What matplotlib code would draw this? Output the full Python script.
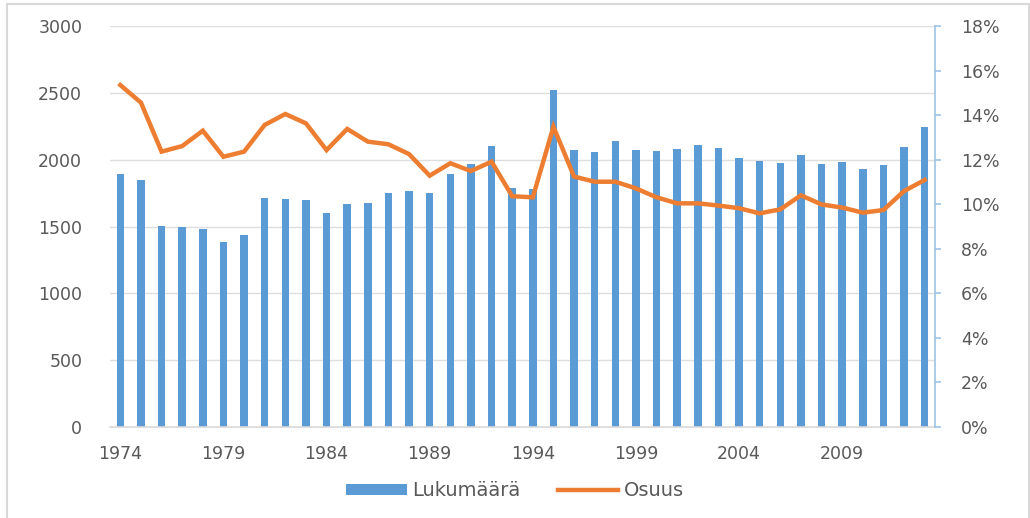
import matplotlib
matplotlib.use("Agg")
import matplotlib.pyplot as plt
from matplotlib.patches import Rectangle
from matplotlib.ticker import FuncFormatter, MultipleLocator

years = list(range(1974, 2014))
lukumaara = [1895, 1850, 1506, 1494, 1479, 1384, 1434, 1711, 1703, 1696,
             1601, 1668, 1676, 1748, 1763, 1753, 1893, 1965, 2102, 1791,
             1781, 2519, 2075, 2060, 2140, 2075, 2068, 2082, 2110, 2090,
             2010, 1988, 1973, 2038, 1965, 1980, 1930, 1958, 2097, 2242]
osuus = [15.35, 14.56, 12.36, 12.61, 13.30, 12.13, 12.36, 13.56, 14.05, 13.63,
         12.43, 13.38, 12.81, 12.69, 12.25, 11.28, 11.84, 11.49, 11.91, 10.36,
         10.31, 13.48, 11.24, 11.01, 11.01, 10.71, 10.31, 10.04, 10.04, 9.94,
         9.82, 9.59, 9.77, 10.40, 9.99, 9.85, 9.62, 9.74, 10.59, 11.09]
tick_years = [1974, 1979, 1984, 1989, 1994, 1999, 2004, 2009]

BLUE = "#5B9BD5"
ORANGE = "#ED7D31"
TXT = "#595959"

plt.rcParams['font.family'] = ['DejaVu Sans']

fig = plt.figure(figsize=(10.30, 5.18), dpi=100)
ax = fig.add_axes([110/1030, 1 - 427/518, (935 - 110)/1030, (427 - 26)/518])

x = list(range(len(years)))
bars = ax.bar(x, lukumaara, width=0.36, color=BLUE, zorder=2, label="Lukumäärä")
ax.set_xlim(-0.5, len(years) - 0.5)
ax.set_ylim(0, 3000)
ax.yaxis.set_major_locator(MultipleLocator(500))
ax.grid(axis='y', color='#dedede', linewidth=1.0, zorder=0)
ax.set_axisbelow(True)
for s in ['top', 'right', 'left']:
    ax.spines[s].set_visible(False)
ax.spines['bottom'].set_color('#d9d9d9')
ax.spines['bottom'].set_linewidth(1.2)
ax.set_xticks([years.index(y) for y in tick_years])
ax.set_xticklabels([str(y) for y in tick_years])
ax.tick_params(axis='x', length=0, pad=13, labelsize=12.5, labelcolor=TXT)
ax.tick_params(axis='y', length=0, pad=20, labelsize=12.5, labelcolor=TXT)

ax2 = ax.twinx()
line, = ax2.plot(x, [v / 100 for v in osuus], color=ORANGE, linewidth=3.2,
                 solid_joinstyle='miter', label="Osuus", zorder=3)
ax2.set_ylim(0, 0.18)
ax2.yaxis.set_major_locator(MultipleLocator(0.02))
ax2.yaxis.set_major_formatter(FuncFormatter(lambda v, p: f"{round(v*100)}%"))
for s in ['top', 'left', 'bottom']:
    ax2.spines[s].set_visible(False)
ax2.spines['right'].set_color('#9DC3E6')
ax2.spines['right'].set_linewidth(1.2)
ax2.tick_params(axis='y', direction='out', length=4.5, width=1.2, color='#9DC3E6',
                pad=14, labelsize=12.5, labelcolor=TXT)

fig.legend([bars, line], ["Lukumäärä", "Osuus"], loc='center',
           bbox_to_anchor=(0.5, 1 - 491/518), ncol=2, frameon=False,
           fontsize=14, labelcolor=TXT, handlelength=3.1, handleheight=0.45,
           columnspacing=1.9, handletextpad=0.3)

fig.patches.append(Rectangle((7/1030, -0.01), 1022/1030, 1.01 - 4/518,
                             transform=fig.transFigure, fill=False,
                             edgecolor='#d9d9d9', linewidth=1.5))

fig.savefig("out.png", dpi=100)
